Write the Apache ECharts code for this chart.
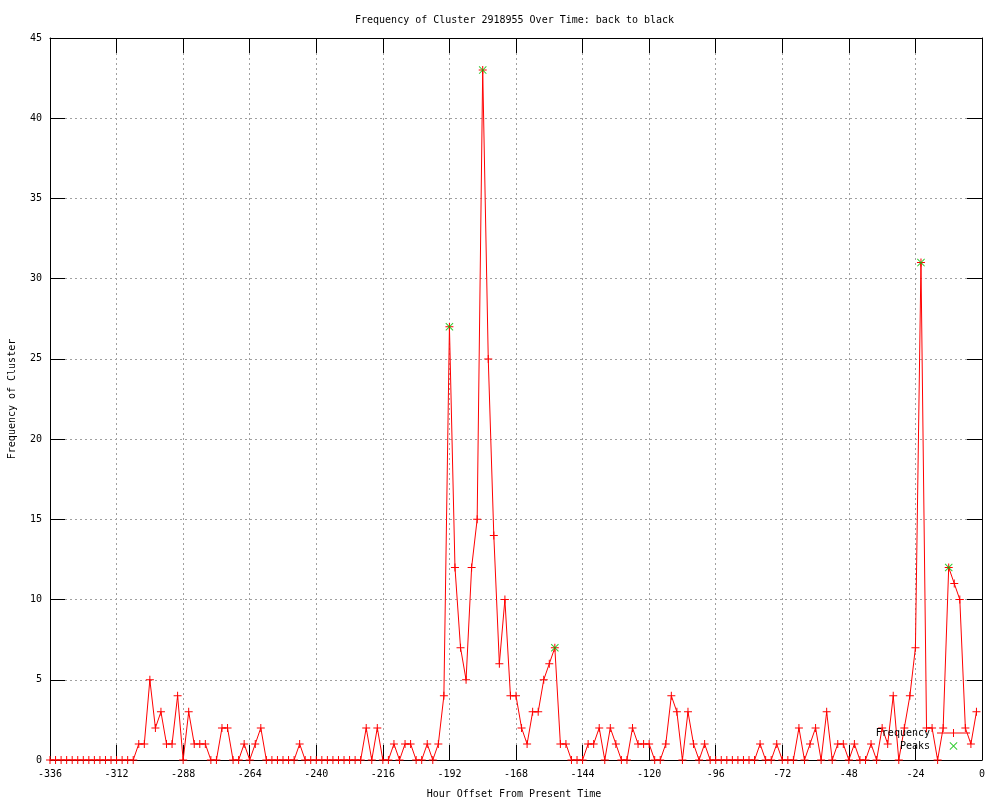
<!DOCTYPE html>
<html>
<head>
<meta charset="utf-8">
<script src="https://cdn.jsdelivr.net/npm/echarts@6/dist/echarts.min.js"></script>
<style>
html,body{margin:0;padding:0;background:#fff;}
#chart{width:1000px;height:800px;}
</style>
</head>
<body>
<div id="chart"></div>
<script>
// ---- data ----
const START_HOUR = -336;   // first sample (hours from present)
const STEP_HOURS = 2;      // sampling interval
const frequency = [
  0,0,0,0,0,0,0,0,0,0,0,0,0,0,0,0,1,1,5,2,
  3,1,1,4,0,3,1,1,1,0,0,2,2,0,0,1,0,1,2,0,
  0,0,0,0,0,1,0,0,0,0,0,0,0,0,0,0,0,2,0,2,
  0,0,1,0,1,1,0,0,1,0,1,4,27,12,7,5,12,15,43,25,
  14,6,10,4,4,2,1,3,3,5,6,7,1,1,0,0,0,1,1,2,
  0,2,1,0,0,2,1,1,1,0,0,1,4,3,0,3,1,0,1,0,
  0,0,0,0,0,0,0,0,1,0,0,1,0,0,0,2,0,1,2,0,
  3,0,1,1,0,1,0,0,1,0,2,1,4,0,2,4,7,31,2,2,
  0,2,12,11,10,2,1,3
];
const peakHours  = [-192, -180, -154, -22, -12];
const peakValues = [27, 43, 7, 31, 12];

const titleText = 'Frequency of Cluster 2918955 Over Time: back to black';
const xName = 'Hour Offset From Present Time';
const yName = 'Frequency of Cluster';

// ---- build ----
const freqData = frequency.map((v, i) => [START_HOUR + i * STEP_HOURS, v]);
const peakData = peakHours.map((h, i) => [h, peakValues[i]]);

const FONT = 'DejaVu Sans Mono';
const plusPath = 'path://M3.5,0H4.5V3.5H8V4.5H4.5V8H3.5V4.5H0V3.5H3.5Z';
const xPath = 'path://M0,0.7L0.7,0L4,3.3L7.3,0L8,0.7L4.7,4L8,7.3L7.3,8L4,4.7L0.7,8L0,7.3L3.3,4Z';
const legendLinePath = 'path://M0,3.5H33V4.5H0ZM16,0H17V8H16Z';

const gridLine = {show: true, lineStyle: {color: '#a0a0a0', type: [2, 3], width: 1}};
const axLine = {show: true, onZero: false, lineStyle: {color: '#000', width: 1}};
const tick = {show: true, inside: true, length: 15, lineStyle: {color: '#000', width: 1}};

const chart = echarts.init(document.getElementById('chart'), null, {renderer: 'canvas'});
chart.setOption({
  animation: false,
  backgroundColor: '#fff',
  textStyle: {fontFamily: FONT},
  title: {
    text: titleText,
    left: 350,
    top: 10,
    textStyle: {fontFamily: FONT, fontSize: 10, fontWeight: 'normal', color: '#000'}
  },
  grid: {left: 50, right: 18, top: 38, bottom: 40, containLabel: false, outerBoundsMode: 'none'},
  legend: {
    orient: 'vertical',
    align: 'right',
    right: 30,
    top: 728,
    padding: 0,
    itemGap: 3,
    itemWidth: 33,
    itemHeight: 8,
    textStyle: {fontFamily: FONT, fontSize: 10, color: '#000', lineHeight: 10, padding: [0, 2, 0, 0]},
    data: [
      {name: 'Frequency', icon: legendLinePath, itemStyle: {color: '#ff0000'}},
      {name: 'Peaks', icon: xPath}
    ]
  },
  xAxis: [{
    type: 'value', position: 'bottom', min: -336, max: 0, interval: 24,
    name: xName, nameLocation: 'middle', nameGap: 29,
    nameTextStyle: {fontFamily: FONT, fontSize: 10, color: '#000', padding: [0, 4, 0, 0]},
    axisLine: axLine, axisTick: tick,
    axisLabel: {fontFamily: FONT, fontSize: 10, color: '#000', margin: 9},
    splitLine: gridLine
  }, {
    type: 'value', position: 'top', min: -336, max: 0, interval: 24,
    axisLine: axLine, axisTick: tick, axisLabel: {show: false}, splitLine: {show: false}
  }],
  yAxis: [{
    type: 'value', position: 'left', min: 0, max: 45, interval: 5,
    name: yName, nameLocation: 'middle', nameGap: 33, nameRotate: 90,
    nameTextStyle: {fontFamily: FONT, fontSize: 10, color: '#000'},
    axisLine: axLine, axisTick: tick,
    axisLabel: {fontFamily: FONT, fontSize: 10, color: '#000', margin: 8},
    splitLine: gridLine
  }, {
    type: 'value', position: 'right', min: 0, max: 45, interval: 5,
    axisLine: axLine, axisTick: tick, axisLabel: {show: false}, splitLine: {show: false}
  }],
  series: [{
    name: 'Frequency',
    type: 'line',
    data: freqData,
    xAxisIndex: 0, yAxisIndex: 0,
    symbol: plusPath,
    symbolSize: 8,
    showAllSymbol: true,
    lineStyle: {color: '#ff0000', width: 1},
    itemStyle: {color: '#ff0000'},
    emphasis: {disabled: true},
    z: 3
  }, {
    name: 'Peaks',
    type: 'scatter',
    data: peakData,
    xAxisIndex: 0, yAxisIndex: 0,
    symbol: xPath,
    symbolSize: 8,
    itemStyle: {color: '#00c000'},
    emphasis: {disabled: true},
    z: 4
  }]
});
</script>
</body>
</html>
